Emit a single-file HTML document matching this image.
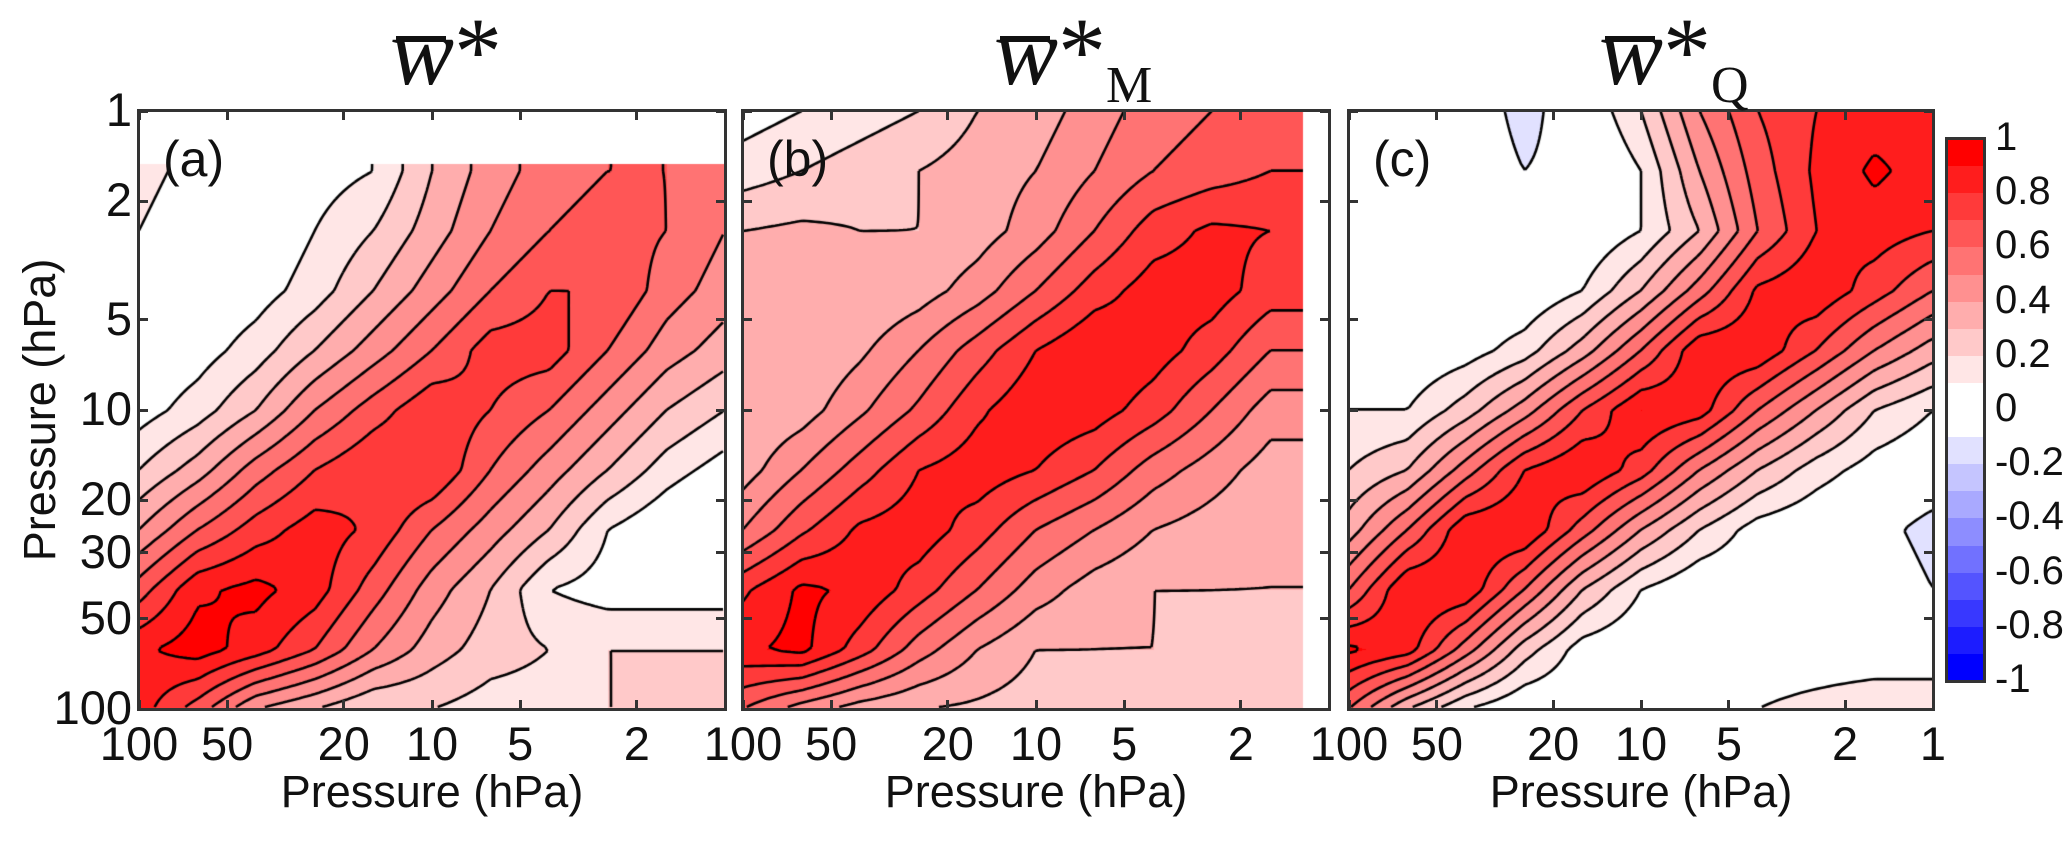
<!DOCTYPE html>
<html><head><meta charset="utf-8">
<style>
body{margin:0;background:#fff;}
#root{position:relative;width:2067px;height:849px;overflow:hidden;font-family:"Liberation Sans",sans-serif;color:#111;}
.t{position:absolute;white-space:nowrap;}
canvas{position:absolute;}
.box{position:absolute;border:3px solid #333;box-sizing:border-box;}
</style></head>
<body>
<div id="root"></div>
<script>
// Pressure grid (hPa), log-spaced: columns left(100)->right(1), rows top(1)->bottom(100)
const colP = [100,63,40,25,16,10,6.3,4,2.5,1.6,1];
const rowP = [1,1.6,2.5,4,6.3,10,16,25,40,63,100];
const xTicks = [100,50,20,10,5,2];
const yTicks = [1,2,5,10,20,30,50,100];
const cbTicks = [1,0.8,0.6,0.4,0.2,0,-0.2,-0.4,-0.6,-0.8,-1];
const dataA = [
[0.15,0.05,-0.1,0.05,0.1,0.3,0.45,0.55,0.6,0.6,0.5],
[0.15,0.05,-0.1,0.05,0.1,0.3,0.45,0.55,0.6,0.6,0.5],
[0.1,0,0,0.1,0.2,0.35,0.5,0.6,0.65,0.6,0.5],
[0,0,0.05,0.15,0.3,0.45,0.6,0.7,0.7,0.55,0.45],
[0,0.05,0.15,0.3,0.45,0.6,0.75,0.75,0.6,0.45,0.35],
[0.05,0.15,0.3,0.5,0.65,0.78,0.7,0.6,0.45,0.3,0.2],
[0.2,0.35,0.55,0.7,0.8,0.8,0.6,0.45,0.3,0.15,0.05],
[0.4,0.6,0.75,0.85,0.78,0.6,0.45,0.3,0.1,0.0,-0.1],
[0.65,0.88,0.93,0.85,0.65,0.45,0.3,0.1,0.05,0.05,0.05],
[0.88,0.95,0.85,0.7,0.5,0.35,0.25,0.2,0.2,0.2,0.2],
[0.85,0.65,0.4,0.3,0.2,0.2,0.15,0.15,0.2,0.2,0.2]];
const dataB = [
[0.05,0.1,0.15,0.2,0.3,0.35,0.45,0.55,0.6,0.65,0.65],
[0.15,0.2,0.25,0.3,0.35,0.4,0.5,0.6,0.65,0.7,0.7],
[0.3,0.32,0.3,0.3,0.35,0.45,0.6,0.75,0.82,0.8,0.8],
[0.3,0.3,0.3,0.35,0.45,0.6,0.75,0.85,0.85,0.75,0.75],
[0.3,0.3,0.38,0.5,0.65,0.8,0.9,0.85,0.75,0.6,0.6],
[0.3,0.35,0.48,0.62,0.78,0.88,0.85,0.75,0.6,0.45,0.45],
[0.35,0.5,0.65,0.8,0.86,0.8,0.7,0.55,0.45,0.35,0.35],
[0.5,0.68,0.82,0.86,0.75,0.6,0.5,0.4,0.35,0.3,0.3],
[0.78,0.92,0.88,0.75,0.6,0.45,0.35,0.3,0.3,0.3,0.3],
[0.88,0.93,0.75,0.55,0.4,0.3,0.3,0.3,0.28,0.25,0.25],
[0.6,0.45,0.35,0.3,0.28,0.25,0.25,0.2,0.25,0.25,0.25]];
const dataC = [
[0.05,0,0,-0.15,0,0.2,0.5,0.7,0.8,0.85,0.85],
[0.05,0,0,-0.1,-0.05,0.1,0.4,0.65,0.82,0.92,0.85],
[0.05,0,0,-0.05,0,0.1,0.3,0.6,0.8,0.85,0.8],
[0.05,0,0,0,0.1,0.3,0.55,0.82,0.88,0.75,0.6],
[0.05,0,0.05,0.15,0.35,0.6,0.88,0.88,0.7,0.5,0.35],
[0.1,0.1,0.25,0.45,0.7,0.9,0.85,0.6,0.4,0.2,0.1],
[0.2,0.3,0.55,0.8,0.9,0.75,0.5,0.3,0.15,0.05,0],
[0.35,0.6,0.88,0.9,0.65,0.4,0.2,0.05,0,-0.05,-0.15],
[0.6,0.9,0.88,0.6,0.3,0.1,0,0,0,0,-0.1],
[0.92,0.85,0.55,0.25,0.05,0,0,0,0,0,0],
[0.6,0.3,0.1,0,0,0,0,0.1,0.15,0.2,0.2]];

const root=document.getElementById('root');
const PT=111, PB=709, PH=PB-PT;
const panels=[
 {x0:139,x1:725,data:dataA,clip:725,clipTop:1.5,letter:'(a)',sub:'',name:'panel-a'},
 {x0:743,x1:1329,data:dataB,clip:1303,clipTop:1,letter:'(b)',sub:'M',name:'panel-b'},
 {x0:1349,x1:1933,data:dataC,clip:1933,clipTop:1,letter:'(c)',sub:'Q',name:'panel-c'}];
function lg(p){return Math.log10(p);}
function xScale(P,p){return P.x0+(2-lg(p))/2*(P.x1-P.x0);}
function yScale(p){return PT+lg(p)/2*PH;}
function color(v){
  const b=Math.floor(v*10+1e-9)/10;
  if(b>=0.1){const g=Math.max(0,Math.round(230*(0.9-Math.min(b,0.9))/0.8));return [255,g,g];}
  if(b>=-0.1) return [255,255,255];
  const k=Math.min(1,(-b-0.2)/0.8); const g=Math.round(225*(1-k)); return [g,g,255];
}
function sample(d,gx,gy){
  const i=Math.min(9,Math.floor(gy)),j=Math.min(9,Math.floor(gx));
  const fy=gy-i,fx=gx-j;
  return d[i][j]*(1-fx)*(1-fy)+d[i][j+1]*fx*(1-fy)+d[i+1][j]*(1-fx)*fy+d[i+1][j+1]*fx*fy;
}
function addText(txt,x,y,size,name,extra){
  const e=document.createElement('div');e.className='t';e.textContent=txt;
  e.style.left=x+'px';e.style.top=y+'px';e.style.fontSize=size+'px';
  if(extra)Object.assign(e.style,extra);
  
  
  root.appendChild(e);return e;
}
panels.forEach((P,pi)=>{
  const W=P.x1-P.x0;
  const cv=document.createElement('canvas');cv.width=W;cv.height=PH;
  cv.style.left=P.x0+'px';cv.style.top=PT+'px';
  
  
  root.appendChild(cv);
  const ctx=cv.getContext('2d');
  const img=ctx.createImageData(W,PH);
  const cw=P.clip-P.x0;
  const ct=Math.round(lg(P.clipTop)/2*PH);
  for(let py=0;py<PH;py++)for(let px=0;px<W;px++){
    const o=(py*W+px)*4;
    let c=[255,255,255];
    if(px<cw && py>=ct){
      c=color(sample(P.data,(2*px/W)/0.2,(2*py/PH)/0.2));
    }
    img.data[o]=c[0];img.data[o+1]=c[1];img.data[o+2]=c[2];img.data[o+3]=255;
  }
  ctx.putImageData(img,0,0);
  // contours via marching squares
  const s=4, nx=Math.floor(cw/s), ny=Math.floor(PH/s);
  const V=[];
  for(let j=0;j<=ny;j++){V[j]=[];for(let i=0;i<=nx;i++){
    const px=Math.min(i*s,cw-1),py=Math.min(j*s,PH-1);
    V[j][i]=sample(P.data,(2*px/W)/0.2,(2*py/PH)/0.2);}}
  ctx.save();ctx.beginPath();ctx.rect(0,ct,cw,PH-ct);ctx.clip();
  ctx.strokeStyle='#000';ctx.lineWidth=2.6;ctx.beginPath();
  const levels=[-0.1,0.1,0.2,0.3,0.4,0.5,0.6,0.7,0.8,0.9];
  levels.forEach(L0=>{
    const L=L0-1e-6;
    for(let j=0;j<ny;j++)for(let i=0;i<nx;i++){
      const a=V[j][i],b=V[j][i+1],c=V[j+1][i+1],d=V[j+1][i];
      const pts=[];
      const ed=(v1,v2,x1,y1,x2,y2)=>{if((v1<L)!==(v2<L)){const t=(L-v1)/(v2-v1);pts.push([x1+(x2-x1)*t,y1+(y2-y1)*t]);}};
      const X=i*s,Y=j*s;
      ed(a,b,X,Y,X+s,Y);ed(b,c,X+s,Y,X+s,Y+s);ed(c,d,X+s,Y+s,X,Y+s);ed(d,a,X,Y+s,X,Y);
      for(let k=0;k+1<pts.length;k+=2){ctx.moveTo(pts[k][0],pts[k][1]);ctx.lineTo(pts[k+1][0],pts[k+1][1]);}
    }
  });
  ctx.stroke();ctx.restore();
  // frame
  const bx=document.createElement('div');bx.className='box';
  bx.style.left=(P.x0-2)+'px';bx.style.top=(PT-2)+'px';bx.style.width=(W+4)+'px';bx.style.height=(PH+4)+'px';
  
  
  root.appendChild(bx);
  // ticks
  xTicks.forEach(p=>{
    const x=xScale(P,p);
    const tk=document.createElement('div');tk.style.cssText=`position:absolute;left:${x-1.5}px;top:${PT}px;width:3px;height:9px;background:#333`;
    
    
    root.appendChild(tk);
    const tb=tk.cloneNode();tb.style.top=(PB-9)+'px';
    
    root.appendChild(tb);
    addText(String(p),x,716,47,'x-tick-label',{transform:'translateX(-50%)'});
  });
  if(pi===2){addText('1',P.x1,716,47,'x-tick-label',{transform:'translateX(-50%)'});}
  yTicks.forEach(p=>{
    const y=yScale(p);
    const tk=document.createElement('div');tk.style.cssText=`position:absolute;left:${P.x1-9}px;top:${y-1.5}px;width:9px;height:3px;background:#333`;
    
    
    root.appendChild(tk);
    const tl=tk.cloneNode();tl.style.left=P.x0+'px';
    
    root.appendChild(tl);
  });
  addText('Pressure (hPa)',(P.x0+P.x1)/2,766,45,'x-axis-title',{transform:'translateX(-50%)'});
  addText(P.letter,P.x0+24,130,50,P.name+'-label');
  // title
  const cx=(P.x0+P.x1)/2;
  const tt=addText('w',cx-42,-4,96,P.name+'-title',{fontFamily:'"Liberation Serif",serif',fontStyle:'italic'});
  const st=document.createElement('span');st.textContent='*';st.style.fontStyle='normal';tt.appendChild(st);
  if(P.sub){const sb=document.createElement('span');sb.textContent=P.sub;sb.style.cssText='font-size:52px;font-style:normal;vertical-align:-0.35em;';tt.appendChild(sb);}
  const bar=document.createElement('div');
  bar.style.cssText=`position:absolute;left:${cx-36}px;top:36px;width:50px;height:6px;background:#111`;
  
  
  root.appendChild(bar);
});
// y axis labels
yTicks.forEach(p=>{addText(String(p),132,yScale(p)-29,47,'y-tick-label',{transform:'translateX(-100%)'});});
addText('Pressure (hPa)',40,(PT+PB)/2,45,'y-axis-title',{transform:'translate(-50%,-50%) rotate(-90deg)'});
// colorbar
const CB={x:1947,y0:139,y1:681,w:37};
for(let k=0;k<20;k++){
  const v=1-(k+1)*0.1+0.0001;
  const c=color(v);
  const e=document.createElement('div');
  const h=(CB.y1-CB.y0)/20;
  e.style.cssText=`position:absolute;left:${CB.x}px;top:${CB.y0+k*h}px;width:${CB.w}px;height:${h+0.5}px;background:rgb(${c[0]},${c[1]},${c[2]})`;
  
  
  root.appendChild(e);
}
const cbf=document.createElement('div');cbf.className='box';
cbf.style.cssText=`left:${CB.x-2}px;top:${CB.y0-2}px;width:${CB.w+4}px;height:${CB.y1-CB.y0+4}px;border-width:3px`;


root.appendChild(cbf);
cbTicks.forEach(v=>{
  const y=CB.y0+(1-v)/2*(CB.y1-CB.y0);
  addText(String(v),1995,y-24,40,'colorbar-tick-label');
});
</script>
</body></html>
